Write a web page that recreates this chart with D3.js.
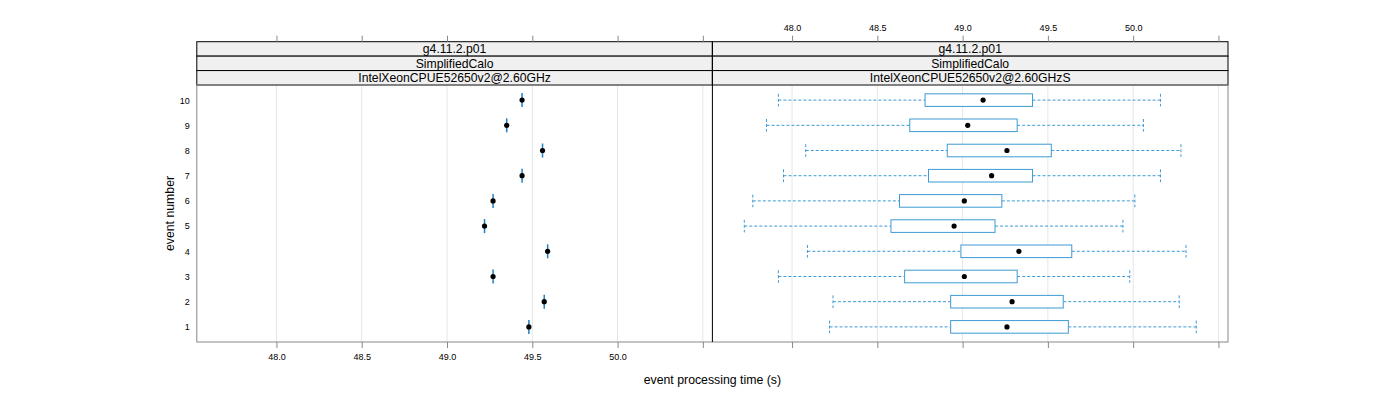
<!DOCTYPE html>
<html><head><meta charset="utf-8">
<script src="https://cdn.jsdelivr.net/npm/d3@7"></script>
<style>body{margin:0;background:#fff}svg{display:block;font-family:"Liberation Sans",Arial,sans-serif}</style>
</head><body><svg id="c" width="1400" height="400"></svg>
<script>
const events = [1,2,3,4,5,6,7,8,9,10];
const meanTime = [49.48, 49.57, 49.27, 49.59, 49.22, 49.27, 49.44, 49.56, 49.35, 49.44];
const whiskerLow  = [48.22, 48.24, 47.92, 48.09, 47.72, 47.77, 47.95, 48.08, 47.85, 47.92];
const q1          = [48.93, 48.93, 48.66, 48.99, 48.58, 48.63, 48.80, 48.91, 48.69, 48.78];
const median      = [49.26, 49.29, 49.01, 49.33, 48.95, 49.01, 49.17, 49.26, 49.03, 49.12];
const q3          = [49.62, 49.59, 49.32, 49.64, 49.19, 49.23, 49.41, 49.52, 49.32, 49.41];
const whiskerHigh = [50.37, 50.27, 49.98, 50.31, 49.94, 50.01, 50.16, 50.28, 50.06, 50.16];
const xTicks = [48.0, 48.5, 49.0, 49.5, 50.0, 50.5];
const xTickLabels = ["48.0", "48.5", "49.0", "49.5", "50.0", ""];
const stripLabels = [
  ["g4.11.2.p01", "SimplifiedCalo", "IntelXeonCPUE52650v2@2.60GHz"],
  ["g4.11.2.p01", "SimplifiedCalo", "IntelXeonCPUE52650v2@2.60GHzS"]
];
const xDomain = [47.533, 50.556];
const yDomain = [0.4, 10.6];

const svg = d3.select("#c");
const panelW = 515.6, x0 = 196.8, pTop = 85, pBottom = 342, stripTop = 41.7;
const stripH = (pTop - stripTop) / 3;
const y = d3.scaleLinear().domain(yDomain).range([pBottom, pTop]);
const xs = [0,1].map(i => d3.scaleLinear().domain(xDomain).range([x0 + i*panelW, x0 + (i+1)*panelW]));
const blue = "#3d9ad4";

// gridlines
xs.forEach(x => {
  svg.append("g").selectAll("line").data(xTicks).join("line")
    .attr("x1", d => x(d)).attr("x2", d => x(d)).attr("y1", pTop).attr("y2", pBottom)
    .attr("stroke", "#e6e6e6").attr("stroke-width", 1);
});

// strips
xs.forEach((x, i) => {
  stripLabels[i].forEach((lab, j) => {
    svg.append("rect").attr("x", x.range()[0]).attr("y", stripTop + j*stripH)
      .attr("width", panelW).attr("height", stripH)
      .attr("fill", "#f0f0f0").attr("stroke", "#000").attr("stroke-width", 1);
    svg.append("text").attr("x", (x.range()[0]+x.range()[1])/2).attr("y", stripTop + j*stripH + stripH/2 + 4.3)
      .attr("text-anchor", "middle").attr("font-size", 12.2).attr("fill", "#000").text(lab);
  });
});

// left panel: means with error bars
const left = svg.append("g");
left.selectAll("line.err").data(events).join("line").attr("class","err")
  .attr("x1", (d,i) => xs[0](meanTime[i])).attr("x2", (d,i) => xs[0](meanTime[i]))
  .attr("y1", d => y(d) - 7).attr("y2", d => y(d) + 7)
  .attr("stroke", "#1f7fc4").attr("stroke-width", 1.5);
left.selectAll("circle").data(events).join("circle")
  .attr("cx", (d,i) => xs[0](meanTime[i])).attr("cy", d => y(d)).attr("r", 2.6).attr("fill", "#000");

// right panel: boxplots
const right = svg.append("g");
const bh = (y(0) - y(0.5));
events.forEach((e, i) => {
  const x = xs[1], cy = y(e);
  right.append("line").attr("x1", x(whiskerLow[i])).attr("x2", x(q1[i])).attr("y1", cy).attr("y2", cy)
    .attr("stroke", blue).attr("stroke-dasharray", "3,2");
  right.append("line").attr("x1", x(q3[i])).attr("x2", x(whiskerHigh[i])).attr("y1", cy).attr("y2", cy)
    .attr("stroke", blue).attr("stroke-dasharray", "3,2");
  [whiskerLow[i], whiskerHigh[i]].forEach(v => {
    right.append("line").attr("x1", x(v)).attr("x2", x(v)).attr("y1", cy - bh/2).attr("y2", cy + bh/2)
      .attr("stroke", blue).attr("stroke-dasharray", "3,2");
  });
  right.append("rect").attr("x", x(q1[i])).attr("y", cy - bh/2).attr("width", x(q3[i]) - x(q1[i])).attr("height", bh)
    .attr("fill", "#fff").attr("stroke", blue).attr("stroke-width", 1);
  right.append("circle").attr("cx", x(median[i])).attr("cy", cy).attr("r", 2.6).attr("fill", "#000");
});

// panel frames
svg.append("rect").attr("x", x0).attr("y", pTop).attr("width", 2*panelW).attr("height", pBottom - pTop)
  .attr("fill", "none").attr("stroke", "#888").attr("stroke-width", 1);
svg.append("line").attr("x1", x0 + panelW).attr("x2", x0 + panelW).attr("y1", stripTop).attr("y2", pBottom)
  .attr("stroke", "#000").attr("stroke-width", 1);

// axes
const fmt = d => xTickLabels[xTicks.indexOf(d)];
const styleText = g => g.selectAll("text").attr("font-size", 9).attr("font-family","Liberation Sans, Arial").attr("fill","#000");
// left: bottom labels, top ticks only
svg.append("g").attr("transform", `translate(0,${pBottom})`)
  .call(d3.axisBottom(xs[0]).tickValues(xTicks).tickFormat(fmt).tickSize(6).tickPadding(6))
  .call(g => { g.select(".domain").remove(); g.selectAll("line").attr("stroke","#888"); styleText(g); });
svg.append("g").attr("transform", `translate(0,${stripTop})`)
  .call(d3.axisTop(xs[0]).tickValues(xTicks).tickFormat("").tickSize(6))
  .call(g => { g.select(".domain").remove(); g.selectAll("line").attr("stroke","#888"); });
// right: top labels, bottom ticks only
svg.append("g").attr("transform", `translate(0,${stripTop})`)
  .call(d3.axisTop(xs[1]).tickValues(xTicks).tickFormat(fmt).tickSize(6).tickPadding(5))
  .call(g => { g.select(".domain").remove(); g.selectAll("line").attr("stroke","#888"); styleText(g); });
svg.append("g").attr("transform", `translate(0,${pBottom})`)
  .call(d3.axisBottom(xs[1]).tickValues(xTicks).tickFormat("").tickSize(6))
  .call(g => { g.select(".domain").remove(); g.selectAll("line").attr("stroke","#888"); });
// y axis labels
svg.append("g").attr("transform", `translate(${x0},0)`)
  .call(d3.axisLeft(y).tickValues(events).tickFormat(d3.format("d")).tickSize(0).tickPadding(7))
  .call(g => { g.select(".domain").remove(); styleText(g); });

// axis titles
svg.append("text").attr("x", x0 + panelW).attr("y", 384).attr("text-anchor", "middle").attr("font-size", 12.3).text("event processing time (s)");
svg.append("text").attr("transform", `translate(174,${(pTop+pBottom)/2}) rotate(-90)`).attr("text-anchor", "middle").attr("font-size", 12.3).text("event number");
</script></body></html>
